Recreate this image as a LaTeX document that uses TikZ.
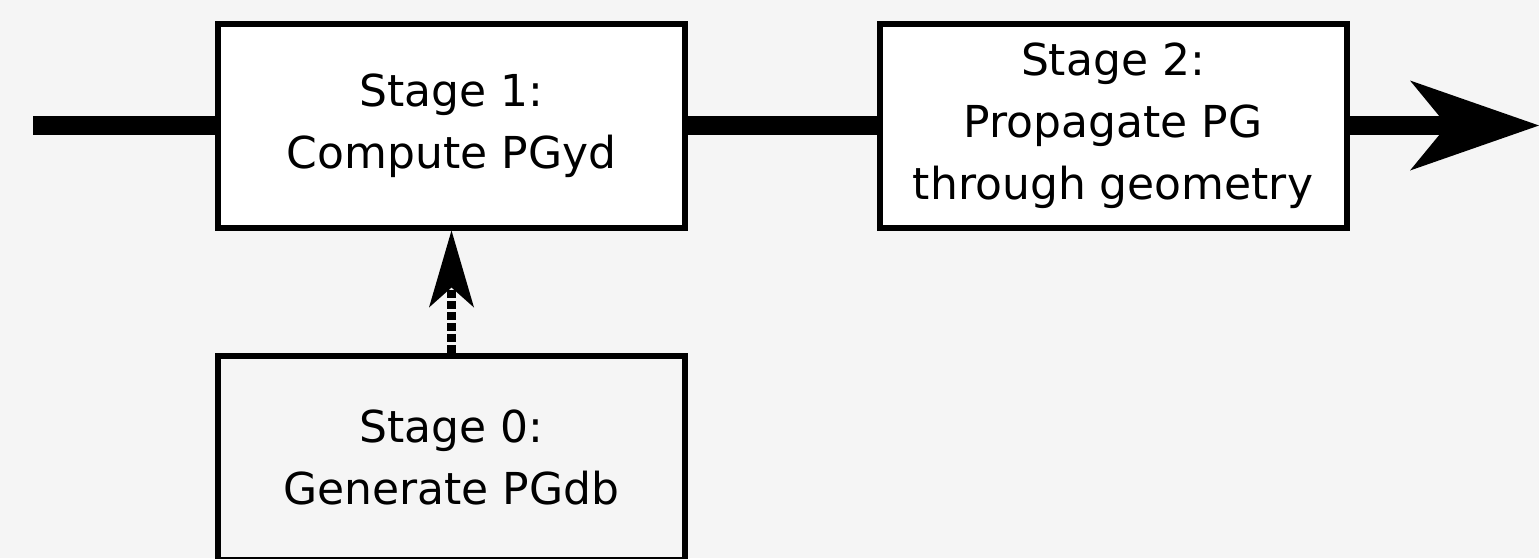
\documentclass[tikz,border=0pt]{standalone}
\usepackage{fontspec}
\setmainfont{DejaVu Sans}
\usetikzlibrary{arrows.meta}
\definecolor{bggray}{HTML}{F5F5F5}

\begin{document}
\begin{tikzpicture}
  [x=1pt,y=-1pt,every node/.style={draw,line width=6pt,fill=white,minimum width=467pt,minimum height=204pt,inner sep=0pt,align=center,font=\fontsize{44}{62}\selectfont}]

  \tikzstyle{pending} = [fill=bggray]

  \fill[bggray] (0,0) rectangle (1539,558);
  \useasboundingbox (0,0) rectangle (1539,558);

  \node (1) at (451.5,125.5) {Stage 1:\\Compute PGyd};
  \node (2) at (1113,125.5) {Stage 2:\\Propagate PG\\through geometry};
  \node[pending] (0) at (451.5,457.5) {Stage 0:\\Generate PGdb};

  \coordinate (in) at (33,125.5);
  \coordinate (out) at (1539,125.5);

  \path[line width=19pt]
        (in) edge (1)
        (1) edge (2)
        (2) edge[-{Stealth[length=129pt,width=90pt,inset=37pt,line width=0pt]}] (out);
  \path[-{Stealth[length=77pt,width=45pt,inset=20pt,line width=0pt]}, line width=9pt, dash pattern=on 8pt off 3pt]
        (0) edge (1);
\end{tikzpicture}
\end{document}
